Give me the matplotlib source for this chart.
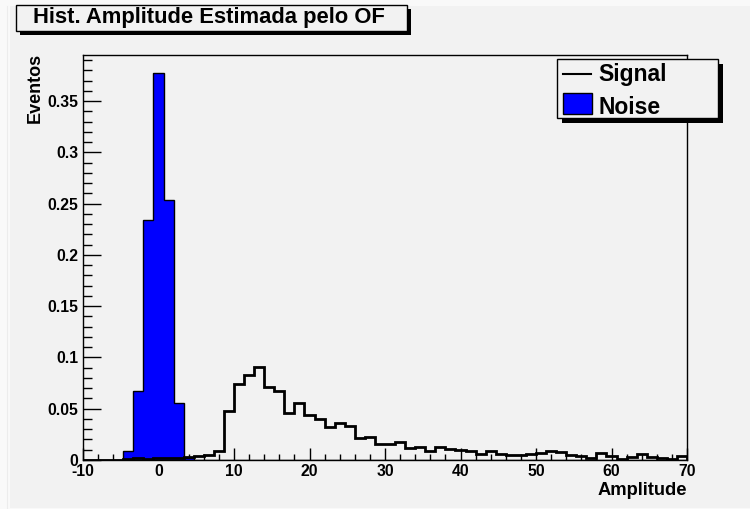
import numpy as np
import matplotlib
matplotlib.use('Agg')
import matplotlib.pyplot as plt
from matplotlib.patches import Rectangle
from matplotlib.lines import Line2D
from matplotlib.ticker import MultipleLocator, FixedLocator

# ---------------- data ----------------
x_min, x_max, n_bins = -10, 70, 60

signal = [0, 0, 0, 0, 0.001, 0.002, 0.001, 0.0015, 0.002, 0.002,
          0.003, 0.0035, 0.0046, 0.0085, 0.048, 0.074, 0.083, 0.091, 0.071, 0.067,
          0.046, 0.056, 0.044, 0.040, 0.0325, 0.036, 0.0335, 0.021, 0.022, 0.016,
          0.016, 0.0175, 0.012, 0.013, 0.0088, 0.013, 0.0107, 0.0094, 0.0084, 0.0058,
          0.009, 0.006, 0.0049, 0.0049, 0.006, 0.0071, 0.0084, 0.0074, 0.005, 0.0043,
          0.0023, 0.0071, 0.004, 0.0013, 0.0026, 0.0058, 0.0026, 0.0023, 0.0007, 0.004]

noise = [0, 0, 0, 0, 0.009, 0.067, 0.234, 0.377, 0.254, 0.056,
         0.002, 0, 0, 0, 0, 0, 0, 0, 0, 0,
         0, 0, 0, 0, 0, 0, 0, 0, 0, 0,
         0, 0, 0, 0, 0, 0, 0, 0, 0, 0,
         0, 0, 0, 0, 0, 0, 0, 0, 0, 0,
         0, 0, 0, 0, 0, 0, 0, 0, 0, 0]

x_ticks = [-10, 0, 10, 20, 30, 40, 50, 60, 70]
x_tick_labels = ['-10', '0', '10', '20', '30', '40', '50', '60', '70']
y_ticks = [0, 0.05, 0.1, 0.15, 0.2, 0.25, 0.3, 0.35]
y_tick_labels = ['0', '0.05', '0.1', '0.15', '0.2', '0.25', '0.3', '0.35']
y_max = 0.395

title = 'Hist. Amplitude Estimada pelo OF'
xlabel = 'Amplitude'
ylabel = 'Eventos'
legend_labels = ['Signal', 'Noise']

# ---------------- style ----------------
BG = '#f2f2f2'
EDGE = '#f9f9f9'
BLUE = '#0000ff'
FONT = 'Liberation Sans'
W, H = 750, 509


def fx(x):
    return x / W


def fy(y):
    return 1 - y / H


plt.rcParams['font.family'] = [FONT, 'DejaVu Sans']
plt.rcParams['font.weight'] = 'bold'

fig = plt.figure(figsize=(W / 100, H / 100), dpi=100, facecolor=EDGE)
# canvas pad (slightly darker than the outer border)
fig.patches.append(Rectangle((fx(10), fy(508)), (W - 10) / W, (508 - 6) / H,
                             transform=fig.transFigure, facecolor=BG,
                             edgecolor='none', zorder=-10))
fig.lines.append(Line2D([fx(7), fx(7)], [fy(6), fy(508)], transform=fig.transFigure,
                        color='#ececec', lw=0.8, zorder=-10))

ax = fig.add_axes([fx(83), fy(460), (687 - 83) / W, (460 - 55) / H])
ax.set_facecolor(BG)

edges = np.linspace(x_min, x_max, n_bins + 1)
ax.stairs(noise, edges, fill=True, facecolor=BLUE, edgecolor='none', zorder=2)
ax.stairs(noise, edges, color='black', lw=1, zorder=3)
ax.stairs(signal, edges, color='black', lw=2, zorder=4)

ax.set_xlim(x_min, x_max)
ax.set_ylim(0, y_max)

ax.xaxis.set_major_locator(FixedLocator(x_ticks))
ax.set_xticklabels(x_tick_labels)
ax.xaxis.set_minor_locator(MultipleLocator(2))
ax.yaxis.set_major_locator(FixedLocator(y_ticks))
ax.set_yticklabels(y_tick_labels)
ax.yaxis.set_minor_locator(MultipleLocator(0.01))

ax.tick_params(axis='x', which='major', direction='in', length=8.6, width=1,
               pad=3, labelsize=11.3, top=False)
ax.tick_params(axis='x', which='minor', direction='in', length=4.3, width=1, top=False)
ax.tick_params(axis='y', which='major', direction='in', length=13, width=1,
               pad=3.5, labelsize=11.3, right=False)
ax.tick_params(axis='y', which='minor', direction='in', length=6.5, width=1, right=False)
for lab in ax.get_xticklabels() + ax.get_yticklabels():
    lab.set_fontweight('bold')

for s in ax.spines.values():
    s.set_color('black')
    s.set_linewidth(1)

# axis titles
fig.text(fx(687), fy(495), xlabel, ha='right', va='baseline',
         fontsize=13.2, fontweight='bold')
fig.text(fx(35), fy(53), ylabel, ha='center', va='top', rotation=90,
         fontsize=13, fontweight='bold')

# title box with shadow
fig.patches.append(Rectangle((fx(20), fy(35)), (411 - 20) / W, (35 - 9) / H,
                             transform=fig.transFigure, facecolor='black',
                             edgecolor='none', zorder=1))
fig.patches.append(Rectangle((fx(16), fy(31)), (407 - 16) / W, (31 - 5) / H,
                             transform=fig.transFigure, facecolor=BG,
                             edgecolor='black', lw=1, zorder=2))
fig.text(fx(209), fy(18), title, ha='center', va='center',
         fontsize=15.8, fontweight='bold', zorder=3)

# legend box with shadow
fig.patches.append(Rectangle((fx(562), fy(123)), (723 - 562) / W, (123 - 64) / H,
                             transform=fig.transFigure, facecolor='black',
                             edgecolor='none', zorder=5))
fig.patches.append(Rectangle((fx(557), fy(118)), (718 - 557) / W, (118 - 59) / H,
                             transform=fig.transFigure, facecolor=BG,
                             edgecolor='black', lw=1, zorder=6))
fig.lines.append(Line2D([fx(563), fx(591)], [fy(74), fy(74)],
                        transform=fig.transFigure, color='black', lw=1.5, zorder=7))
fig.patches.append(Rectangle((fx(563), fy(114)), (592 - 563) / W, (114 - 93) / H,
                             transform=fig.transFigure, facecolor=BLUE,
                             edgecolor='black', lw=1, zorder=7))
fig.text(fx(598), fy(80.7), legend_labels[0], ha='left', va='baseline',
         fontsize=16.5, fontweight='bold', zorder=8)
fig.text(fx(598), fy(114), legend_labels[1], ha='left', va='baseline',
         fontsize=16.5, fontweight='bold', zorder=8)

fig.savefig('out.png', dpi=100, facecolor=EDGE)
